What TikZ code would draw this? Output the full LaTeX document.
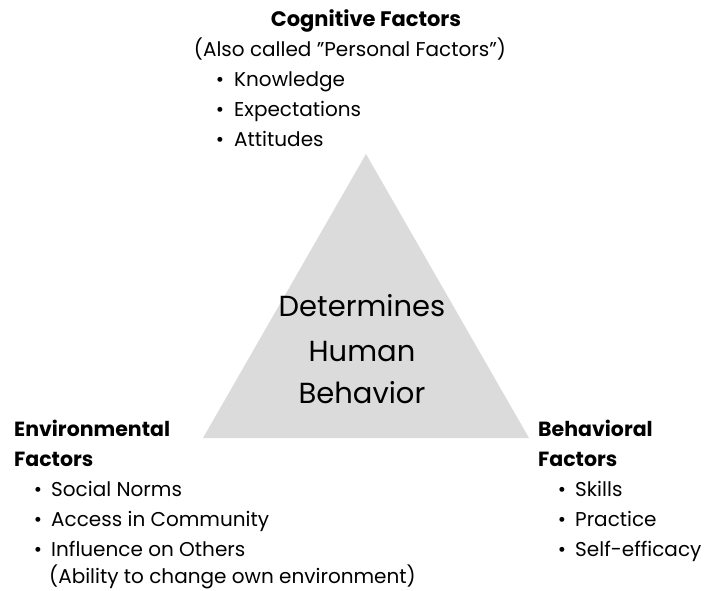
\documentclass[tikz,border=0pt]{standalone}
\usepackage{fontspec}
\setmainfont{Poppins}
\begin{document}
\begin{tikzpicture}[x=1pt,y=-1pt,
  body/.style={anchor=base west,inner sep=0pt,font=\fontsize{20}{24}\selectfont},
  head/.style={anchor=base west,inner sep=0pt,font=\fontsize{20.5}{24}\selectfont\bfseries},
  bul/.style={anchor=base,inner sep=0pt,font=\fontsize{20}{24}\selectfont},
  core/.style={anchor=base,inner sep=0pt,font=\fontsize{29}{32}\selectfont}]
\useasboundingbox (0,0) rectangle (712,590);
\fill[white] (0,0) rectangle (712,590);
% central triangle
\coordinate (apex) at (366,154);
\coordinate (bl) at (203,438);
\coordinate (br) at (529,438);
\fill[black!14] (apex) -- (br) -- (bl) -- cycle;
\node[core] (c1) at (362,316) {Determines};
\node[core] (c2) at (362,361) {Human};
\node[core] (c3) at (362,403) {Behavior};
% cognitive factors
\node[anchor=base,inner sep=0pt,font=\fontsize{21}{24}\selectfont\bfseries] (cogh) at (366,26) {Cognitive Factors};
\node[anchor=base,inner sep=0pt,font=\fontsize{20}{24}\selectfont] (cogs) at (350,56) {(Also called "Personal Factors")};
\node[bul] (cb1) at (220,86) {•};
\node[body] (ct1) at (234,86) {Knowledge};
\node[bul] (cb2) at (220,116) {•};
\node[body] (ct2) at (234,116) {Expectations};
\node[bul] (cb3) at (220,146) {•};
\node[body] (ct3) at (234,146) {Attitudes};
% environmental factors
\node[head] (envh1) at (14,436) {Environmental};
\node[head] (envh2) at (14,466) {Factors};
\node[bul] (eb1) at (38,496) {•};
\node[body] (et1) at (51,496) {Social Norms};
\node[bul] (eb2) at (38,526) {•};
\node[body] (et2) at (51,526) {Access in Community};
\node[bul] (eb3) at (38,556) {•};
\node[body] (et3) at (51,556) {Influence on Others};
\node[body] (et4) at (49,583) {(Ability to change own environment)};
% behavioral factors
\node[head] (behh1) at (538,436) {Behavioral};
\node[head] (behh2) at (538,466) {Factors};
\node[bul] (bb1) at (562,496) {•};
\node[body] (bt1) at (575,496) {Skills};
\node[bul] (bb2) at (562,526) {•};
\node[body] (bt2) at (575,526) {Practice};
\node[bul] (bb3) at (562,556) {•};
\node[body] (bt3) at (575,556) {Self-efficacy};
\end{tikzpicture}
\end{document}
